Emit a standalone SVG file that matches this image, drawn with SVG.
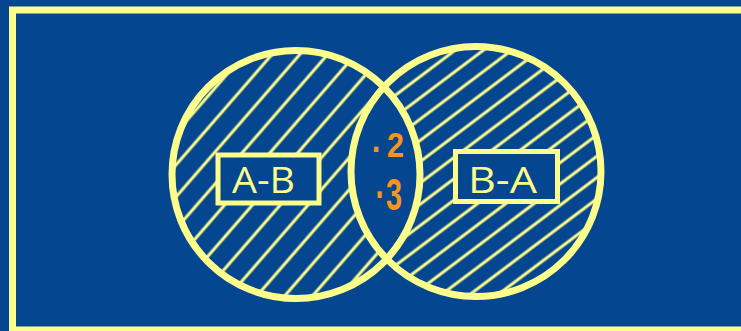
<svg xmlns="http://www.w3.org/2000/svg" width="741" height="331" viewBox="0 0 741 331">
  <style>
    .yl { stroke: #fdfd8b; fill: none; }
    .ring { stroke: #fdfd8b; stroke-width: 7; fill: none; }
    .box { stroke: #fdfd8b; stroke-width: 5; fill: #04468f; }
    .lbl { font-family: "Open Sans", "Liberation Sans", sans-serif; font-size: 36px; fill: #fdfd8b; text-anchor: middle; }
    .num { font-family: "Liberation Sans", "Open Sans", sans-serif; font-weight: bold; fill: #f7941d; }
  </style>
  <defs>
    <pattern id="hatchA" patternUnits="userSpaceOnUse" width="40" height="21" patternTransform="rotate(-49)">
      <line x1="0" y1="10" x2="40" y2="10" stroke="#fdfd8b" stroke-width="3.2"/>
    </pattern>
    <pattern id="hatchB" patternUnits="userSpaceOnUse" width="40" height="17" patternTransform="rotate(-37)">
      <line x1="0" y1="8" x2="40" y2="8" stroke="#fdfd8b" stroke-width="3.2"/>
    </pattern>
    <mask id="onlyA">
      <rect x="0" y="0" width="741" height="331" fill="black"/>
      <circle cx="296" cy="174.5" r="124" fill="white"/>
      <circle cx="476" cy="171.5" r="125" fill="black"/>
    </mask>
    <mask id="onlyB">
      <rect x="0" y="0" width="741" height="331" fill="black"/>
      <circle cx="476" cy="171.5" r="125" fill="white"/>
      <circle cx="296" cy="174.5" r="124" fill="black"/>
    </mask>
  </defs>

  <rect x="0" y="0" width="741" height="331" fill="#04468f"/>
  <rect id="frame" x="12.5" y="10" width="800" height="320" class="yl" stroke-width="7"/>

  <g id="setA">
    <rect x="160" y="40" width="280" height="280" fill="url(#hatchA)" mask="url(#onlyA)"/>
    <circle cx="296" cy="174.5" r="124" class="ring"/>
  </g>
  <g id="setB">
    <rect x="340" y="40" width="280" height="280" fill="url(#hatchB)" mask="url(#onlyB)"/>
    <circle cx="476" cy="171.5" r="125" class="ring"/>
  </g>

  <g id="labelAminusB">
    <rect x="218" y="155" width="101" height="48" class="box"/>
    <text x="263.5" y="193" class="lbl" textLength="63" lengthAdjust="spacingAndGlyphs">A-B</text>
  </g>
  <g id="labelBminusA">
    <rect x="455.5" y="151.5" width="102" height="50" class="box"/>
    <text x="502.5" y="193" class="lbl" textLength="69" lengthAdjust="spacingAndGlyphs">B-A</text>
  </g>

  <g id="intersection">
    <text class="num" font-size="34" transform="translate(387,157) scale(0.9,1.05)"><tspan x="-17" dy="-5">.</tspan><tspan x="0" dy="5">2</tspan></text>
    <text class="num" font-size="36" transform="translate(386,210) scale(0.8,1.25)"><tspan x="-13" dy="-10">.</tspan><tspan x="0" dy="10">3</tspan></text>
  </g>
</svg>
